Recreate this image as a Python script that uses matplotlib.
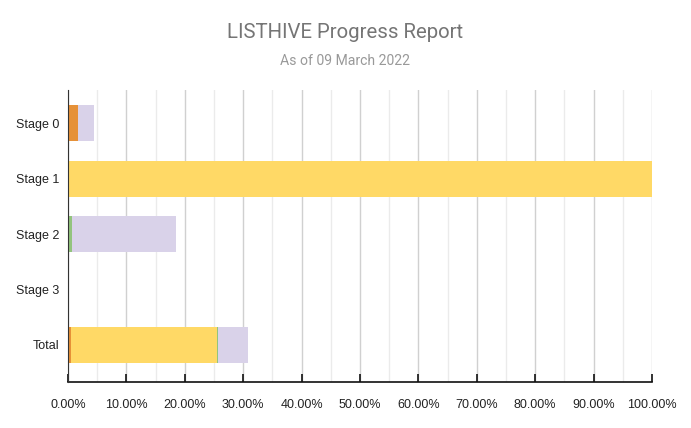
import matplotlib
matplotlib.use("Agg")
import matplotlib.pyplot as plt
from matplotlib.ticker import MultipleLocator, FuncFormatter

categories = ["Stage 0", "Stage 1", "Stage 2", "Stage 3", "Total"]
orange_vals = [1.7, 0.0, 0.0, 0.0, 0.45]
yellow_vals = [0.0, 100.0, 0.0, 0.0, 25.1]
green_vals = [0.0, 0.0, 0.65, 0.0, 0.12]
lavender_vals = [2.7, 0.0, 17.85, 0.0, 5.1]
series = [orange_vals, yellow_vals, green_vals, lavender_vals]
colors = ["#e69138", "#ffd966", "#93c47d", "#d9d2e9"]
title = "LISTHIVE Progress Report"
subtitle = "As of 09 March 2022"

fig = plt.figure(figsize=(6.91, 4.28), dpi=100)
ax = fig.add_axes([68/691, 1-382/428, (652-68)/691, (382-90)/428])

y = list(range(len(categories)))
left = [0.0]*len(categories)
for vals, c in zip(series, colors):
    ax.barh(y, vals, left=left, height=0.65, color=c, zorder=3)
    left = [l+v for l, v in zip(left, vals)]

ax.set_xlim(0, 100)
ax.set_ylim(4.67, -0.6)
ax.set_yticks(y)
ax.set_yticklabels(categories, fontsize=9, family="Liberation Sans", color="#222222")
ax.xaxis.set_major_locator(MultipleLocator(10))
ax.xaxis.set_minor_locator(MultipleLocator(5))
ax.xaxis.set_major_formatter(FuncFormatter(lambda v, p: f"{v:.2f}%"))
for lab in ax.get_xticklabels():
    lab.set_family("Liberation Sans")
ax.tick_params(axis="x", which="major", direction="in", length=6, width=1.2, color="#111111",
               labelsize=9, labelcolor="#222222", pad=12)
ax.tick_params(axis="x", which="minor", length=0)
ax.tick_params(axis="y", length=0, pad=6)
ax.grid(axis="x", which="major", color="#d0d0d0", linewidth=1, zorder=0)
ax.grid(axis="x", which="minor", color="#ebebeb", linewidth=1, zorder=0)
for s in ["top", "right"]:
    ax.spines[s].set_visible(False)
ax.spines["left"].set_color("#333333")
ax.spines["bottom"].set_color("#111111")
ax.spines["bottom"].set_linewidth(1.2)
ax.spines["left"].set_zorder(4)

fig.text(0.5, 1-33/428, title, ha="center", va="center", fontsize=14.7, family="Roboto", color="#757575")
fig.text(0.5, 1-61/428, subtitle, ha="center", va="center", fontsize=10.1, family="Roboto", color="#999999")

fig.savefig("out.png", dpi=100)
